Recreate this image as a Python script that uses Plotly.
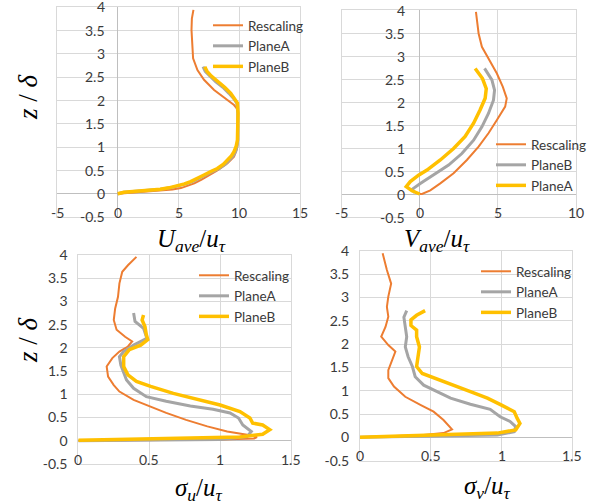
import plotly.graph_objects as go

W, H = 597, 504

# ---------------- data ----------------
# Top-left: U_ave/u_tau
tl_resc_x = [0, 0.6, 1.6, 2.6, 3.6, 4.5, 5.2, 5.8, 6.3, 6.9, 7.4, 8.2, 9.03, 9.57, 9.8, 9.88, 9.9, 9.9, 9.88, 9.57, 9.03, 8.3, 7.93, 7.1, 6.56, 6.2, 6.15, 6.07, 6.1, 6.23]
tl_resc_z = [0, 0.01, 0.03, 0.045, 0.06, 0.09, 0.12, 0.17, 0.22, 0.3, 0.37, 0.5, 0.65, 0.79, 0.95, 1.1, 1.4, 1.69, 1.8, 1.9, 2.0, 2.15, 2.22, 2.44, 2.65, 2.9, 3.08, 3.51, 3.75, 3.94]
tl_pa_x = [0, 0.5, 1.5, 2.5, 3.5, 4.3, 5.0, 5.6, 6.15, 6.75, 7.25, 7.85, 8.35, 8.85, 9.2, 9.5, 9.7, 9.82, 9.88, 9.9, 9.88, 9.8, 9.5, 9.15, 8.65, 8.05, 7.55, 7.2, 7.02]
tl_pb_x = [0, 0.5, 1.5, 2.5, 3.5, 4.2, 4.9, 5.5, 6.0, 6.6, 7.1, 7.7, 8.2, 8.7, 9.03, 9.35, 9.57, 9.75, 9.85, 9.9, 9.9, 9.85, 9.6, 9.3, 8.8, 8.2, 7.7, 7.35, 7.16]
tl_plane_z = [0.0, 0.03, 0.05, 0.07, 0.095, 0.125, 0.165, 0.21, 0.26, 0.33, 0.4, 0.48, 0.54, 0.63, 0.72, 0.81, 0.9, 1.02, 1.15, 1.4, 1.72, 1.94, 2.05, 2.15, 2.28, 2.40, 2.52, 2.62, 2.72]

# Top-right: V_ave/u_tau
tr_resc_x = [0, 0.15, 0.68, 1.32, 2.17, 3.02, 3.77, 4.4, 4.94, 5.47, 5.57, 5.32, 4.94, 4.47, 3.98, 3.77, 3.65, 3.6]
tr_resc_z = [0, 0.0, 0.08, 0.23, 0.45, 0.74, 1.03, 1.32, 1.61, 1.9, 2.08, 2.33, 2.62, 2.91, 3.2, 3.49, 3.75, 3.96]
tr_gray_x = [-0.3, -0.49, 0.04, 0.89, 1.85, 2.7, 3.45, 3.98, 4.4, 4.72, 4.79, 4.62, 4.15]
tr_gray_z = [0.03, 0.1, 0.23, 0.41, 0.63, 0.88, 1.17, 1.46, 1.75, 2.04, 2.26, 2.48, 2.73]
tr_yel_x = [0, -0.49, -0.86, -0.6, -0.07, 0.47, 1.32, 2.17, 2.91, 3.45, 3.87, 4.19, 4.26, 4.02, 3.55]
tr_yel_z = [0, 0.07, 0.16, 0.27, 0.41, 0.52, 0.74, 0.99, 1.25, 1.54, 1.83, 2.08, 2.29, 2.51, 2.73]

# Bottom-left: sigma_u/u_tau
bl_resc_x = [0, 0.5, 1.0, 1.24, 1.26, 1.19, 1.05, 0.91, 0.76, 0.62, 0.51, 0.39, 0.29, 0.25, 0.21, 0.20, 0.24, 0.29, 0.35, 0.38, 0.33, 0.27, 0.25, 0.26, 0.28, 0.29, 0.31, 0.35, 0.41]
bl_resc_z = [0, 0.01, 0.03, 0.05, 0.08, 0.13, 0.2, 0.31, 0.45, 0.6, 0.74, 0.88, 1.06, 1.2, 1.38, 1.6, 1.78, 1.92, 2.03, 2.14, 2.24, 2.39, 2.6, 2.85, 3.1, 3.39, 3.64, 3.78, 3.96]
bl_pa_x = [0, 0.5, 1.0, 1.19, 1.22, 1.16, 1.13, 1.07, 0.95, 0.79, 0.62, 0.48, 0.39, 0.34, 0.32, 0.30, 0.29, 0.32, 0.39, 0.48, 0.48, 0.46, 0.40, 0.39]
bl_pa_z = [0, 0.01, 0.03, 0.09, 0.2, 0.34, 0.49, 0.6, 0.68, 0.75, 0.85, 0.95, 1.13, 1.31, 1.45, 1.63, 1.81, 1.92, 2.06, 2.2, 2.24, 2.42, 2.57, 2.75]
bl_pb_x = [0, 0.62, 1.14, 1.30, 1.35, 1.30, 1.23, 1.21, 1.14, 1.0, 0.83, 0.67, 0.51, 0.41, 0.35, 0.32, 0.32, 0.36, 0.44, 0.49, 0.48, 0.47, 0.45, 0.46]
bl_pb_z = [0.01, 0.05, 0.08, 0.14, 0.24, 0.34, 0.38, 0.49, 0.63, 0.77, 0.9, 1.02, 1.17, 1.28, 1.42, 1.6, 1.81, 1.96, 2.06, 2.18, 2.28, 2.46, 2.6, 2.71]

# Bottom-right: sigma_v/u_tau
br_resc_x = [0, 0.45, 0.59, 0.65, 0.59, 0.52, 0.43, 0.32, 0.24, 0.2, 0.2, 0.23, 0.25, 0.2, 0.15, 0.18, 0.2, 0.19, 0.2, 0.22, 0.19, 0.16]
br_resc_z = [0, 0.05, 0.09, 0.17, 0.37, 0.55, 0.69, 0.87, 1.09, 1.27, 1.44, 1.66, 1.84, 1.98, 2.16, 2.37, 2.59, 2.8, 3.02, 3.3, 3.59, 3.95]
br_pa_x = [0, 0.5, 0.97, 1.09, 1.1, 1.06, 0.99, 0.92, 0.78, 0.64, 0.54, 0.45, 0.39, 0.37, 0.34, 0.32, 0.33, 0.32, 0.31, 0.33]
br_pa_z = [0, 0.02, 0.05, 0.12, 0.23, 0.34, 0.44, 0.6, 0.71, 0.84, 0.98, 1.12, 1.3, 1.52, 1.73, 1.94, 2.16, 2.37, 2.58, 2.72]
br_pb_x = [0, 0.73, 0.97, 1.1, 1.13, 1.11, 1.09, 1.0, 0.9, 0.78, 0.66, 0.54, 0.44, 0.40, 0.41, 0.42, 0.40, 0.40, 0.36, 0.36, 0.40, 0.46]
br_pb_z = [0, 0.06, 0.09, 0.16, 0.3, 0.41, 0.55, 0.69, 0.84, 0.98, 1.12, 1.27, 1.37, 1.52, 1.73, 1.94, 2.16, 2.3, 2.4, 2.52, 2.62, 2.72]

# tick values
z_ticks = [-0.5, 0, 0.5, 1, 1.5, 2, 2.5, 3, 3.5, 4]
tl_x_ticks = [-5, 0, 5, 10, 15]
tr_x_ticks = [-5, 0, 5, 10]
b_x_ticks = [0, 0.5, 1, 1.5]

ORANGE = "#ED7D31"
GRAY = "#A5A5A5"
YELLOW = "#FFC000"
GRID = "#d9d9d9"
ZERO = "#bfbfbf"
TICKC = "#3a3a3a"
TFONT = "Lato"
TSIZE = 14
SERIF = "Liberation Serif"

fig = go.Figure()

def px2fx(p):
    return p / W

def py2fy(p):
    return 1 - p / H

# axis domains (px)
doms = {
    1: dict(x=(57, 300), y=(7, 217)),
    2: dict(x=(341.5, 576), y=(10, 217)),
    3: dict(x=(78.3, 291), y=(255, 464)),
    4: dict(x=(360, 572.3), y=(251, 460.6)),
}
xranges = {1: [-5, 15], 2: [-5, 10], 3: [0, 1.5], 4: [0, 1.5]}
xdt = {1: 5, 2: 5, 3: 0.5, 4: 0.5}

layout = dict(width=W, height=H, margin=dict(l=0, r=0, t=0, b=0, autoexpand=False),
              paper_bgcolor="white", plot_bgcolor="white", showlegend=True)
for i in range(1, 5):
    xa = "xaxis" if i == 1 else f"xaxis{i}"
    ya = "yaxis" if i == 1 else f"yaxis{i}"
    d = doms[i]
    layout[xa] = dict(domain=[px2fx(d["x"][0]), px2fx(d["x"][1])], range=xranges[i],
                      anchor="y" if i == 1 else f"y{i}", dtick=xdt[i], tick0=0,
                      showgrid=True, gridcolor=GRID, gridwidth=1,
                      zeroline=True, zerolinecolor=ZERO, zerolinewidth=1,
                      showline=True, mirror=True, linecolor=GRID, linewidth=1,
                      showticklabels=False, ticks="")
    ybot = py2fy(d["y"][1]); ytop = py2fy(d["y"][0])
    yd = dict(domain=[ybot, ytop], range=[-0.5, 4], dtick=0.5, tick0=0,
              anchor="x" if i == 1 else f"x{i}",
              showgrid=True, gridcolor=GRID, gridwidth=1,
              zeroline=True, zerolinecolor=ZERO, zerolinewidth=1,
              showline=True, mirror=True, linecolor=GRID, linewidth=1)
    if i in (3, 4):
        yd.update(showticklabels=True, ticks="outside", ticklen=7, tickcolor="rgba(0,0,0,0)",
                  tickvals=z_ticks, ticktext=[f"{v:g}" for v in z_ticks],
                  tickfont=dict(family=TFONT, size=TSIZE, color=TICKC))
    else:
        yd.update(showticklabels=False, ticks="")
    layout[ya] = yd

def add(x, y, name, color, width, i, legend):
    fig.add_trace(go.Scatter(x=x, y=y, mode="lines", name=name,
                             line=dict(color=color, width=width),
                             xaxis="x" if i == 1 else f"x{i}",
                             yaxis="y" if i == 1 else f"y{i}",
                             legend=legend, hoverinfo="skip"))

add(tl_resc_x, tl_resc_z, "Rescaling", ORANGE, 2, 1, "legend")
add(tl_pa_x, tl_plane_z, "PlaneA", GRAY, 3, 1, "legend")
add(tl_pb_x, tl_plane_z, "PlaneB", YELLOW, 3.5, 1, "legend")

add(tr_resc_x, tr_resc_z, "Rescaling", ORANGE, 2, 2, "legend2")
add(tr_gray_x, tr_gray_z, "PlaneB", GRAY, 3, 2, "legend2")
add(tr_yel_x, tr_yel_z, "PlaneA", YELLOW, 3.5, 2, "legend2")

add(bl_resc_x, bl_resc_z, "Rescaling", ORANGE, 2, 3, "legend3")
add(bl_pa_x, bl_pa_z, "PlaneA", GRAY, 3, 3, "legend3")
add(bl_pb_x, bl_pb_z, "PlaneB", YELLOW, 3.5, 3, "legend3")

add(br_resc_x, br_resc_z, "Rescaling", ORANGE, 2, 4, "legend4")
add(br_pa_x, br_pa_z, "PlaneA", GRAY, 3, 4, "legend4")
add(br_pb_x, br_pb_z, "PlaneB", YELLOW, 3.5, 4, "legend4")

leg_pos = {"legend": (208, 10), "legend2": (491, 129), "legend3": (194, 260), "legend4": (476, 256)}
for k, (lx, ly) in leg_pos.items():
    layout[k] = dict(x=px2fx(lx), y=py2fy(ly), xanchor="left", yanchor="top",
                     bgcolor="rgba(0,0,0,0)", borderwidth=0,
                     font=dict(family=TFONT, size=13.5, color=TICKC),
                     traceorder="normal")

annotations = []
def tick_ann(text, x, y, xref, yref, xanchor, yanchor="middle"):
    annotations.append(dict(text=text, x=x, y=y, xref=xref, yref=yref, showarrow=False,
                            xanchor=xanchor, yanchor=yanchor,
                            font=dict(family=TFONT, size=TSIZE, color=TICKC)))

# x tick labels (next to z=0 axis, below it)
for v in tl_x_ticks:
    tick_ann(f"{v:g}", v, -0.41, "x", "y", "center")
for v in tr_x_ticks:
    tick_ann(f"{v:g}", v, -0.41, "x2", "y2", "center")
for v in b_x_ticks:
    tick_ann(f"{v:g}", v, -0.4, "x3", "y3", "center")
    tick_ann(f"{v:g}", v, -0.38, "x4", "y4", "center")
# y tick labels for top panels (next to x=0 axis)
for v in z_ticks:
    tick_ann(f"{v:g}", -0.85, v, "x", "y", "right")
    tick_ann(f"{v:g}", -0.8, v, "x2", "y2", "right")

def title_ann(text, cx, cy, size=24, angle=0):
    annotations.append(dict(text=text, x=px2fx(cx), y=py2fy(cy), xref="paper", yref="paper",
                            showarrow=False, xanchor="center", yanchor="middle", textangle=angle,
                            font=dict(family=SERIF, size=size, color="black")))

title_ann("<i>U</i><sub><i>ave</i></sub>/<i>u</i><sub><i>τ</i></sub>", 191, 240, size=25)
title_ann("<i>V</i><sub><i>ave</i></sub>/<i>u</i><sub><i>τ</i></sub>", 437, 240, size=25)
title_ann("<i>σ</i><sub><i>u</i></sub>/<i>u</i><sub><i>τ</i></sub>", 199, 489, size=25)
title_ann("<i>σ</i><sub><i>v</i></sub>/<i>u</i><sub><i>τ</i></sub>", 487, 487, size=25)
title_ann("<i>z</i> / <i>δ</i>", 28, 97, size=27, angle=-90)
title_ann("<i>z</i> / <i>δ</i>", 28, 340, size=27, angle=-90)

layout["annotations"] = annotations
fig.update_layout(**layout)
fig.write_html("out.html", config={"displayModeBar": False},
               post_script="document.body.style.margin='0';")
